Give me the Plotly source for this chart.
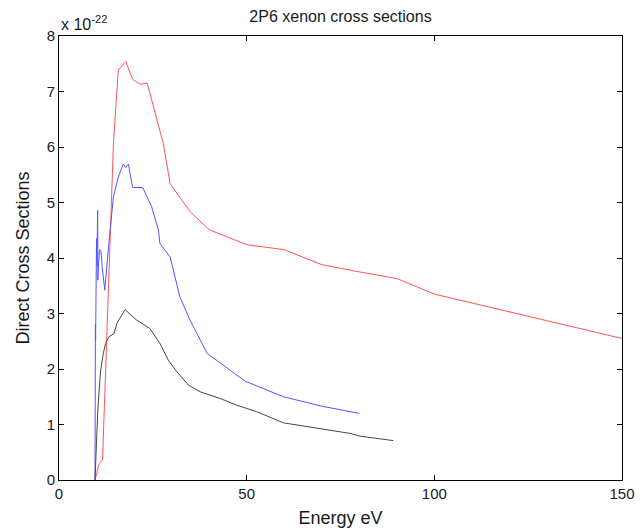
import plotly.graph_objects as go

# Energies (eV) and cross sections (units of 1e-22)
red_x = [9.6, 10.7, 11.6, 14.5, 15.8, 17.8, 19.6, 21.6, 23.5, 27.8, 29.6, 35, 40, 50, 60, 70, 80, 90, 100, 150]
red_y = [0.0, 0.30, 0.36, 6.06, 7.39, 7.54, 7.22, 7.13, 7.15, 6.06, 5.34, 4.83, 4.51, 4.24, 4.15, 3.88, 3.75, 3.63, 3.35, 2.55]

blue_x = [9.6, 9.6, 9.65, 9.7, 9.75, 10.0, 10.1, 10.3, 10.35, 10.5, 10.8, 11.2, 11.5, 12.2, 13.2, 14.5,
          15.8, 17.1, 17.8, 18.5, 19.6, 22.3, 24.7, 26.5, 26.9, 29.6, 32.2, 34.9, 39.5, 49.6, 59.8, 70, 80]
blue_y = [0.0, 2.79, 2.5, 2.8, 2.5, 4.35, 3.85, 4.86, 3.6, 3.85, 4.15, 4.12, 3.84, 3.42, 4.2, 5.1,
          5.46, 5.69, 5.63, 5.69, 5.27, 5.27, 4.92, 4.5, 4.26, 4.02, 3.3, 2.88, 2.28, 1.78, 1.5, 1.33, 1.2]

black_x = [9.6, 10.0, 10.3, 10.7, 11.1, 11.8, 12.4, 13.3, 14.7, 15.4, 17.6, 20.7, 24.2, 26.9, 29.1, 31.4,
           34.5, 37.6, 42.9, 47.3, 52.7, 59.8, 68.7, 77.5, 80.2, 89.1]
black_y = [0.0, 0.78, 1.2, 1.62, 1.98, 2.28, 2.46, 2.58, 2.64, 2.82, 3.07, 2.88, 2.73, 2.46, 2.16, 1.95,
           1.71, 1.59, 1.47, 1.35, 1.23, 1.03, 0.93, 0.84, 0.79, 0.71]

x_ticks = [0, 50, 100, 150]
y_ticks = [0, 1, 2, 3, 4, 5, 6, 7, 8]

fig = go.Figure()
fig.add_trace(go.Scatter(x=red_x, y=red_y, mode="lines", line=dict(color="rgb(255,85,85)", width=1)))
fig.add_trace(go.Scatter(x=blue_x, y=blue_y, mode="lines", line=dict(color="rgb(85,85,255)", width=1)))
fig.add_trace(go.Scatter(x=black_x, y=black_y, mode="lines", line=dict(color="rgb(70,70,70)", width=1)))

font = dict(family="Liberation Sans, Arial, sans-serif", size=15, color="#1a1a1a")

fig.update_layout(
    width=643, height=530,
    margin=dict(l=59, r=21, t=36, b=50),
    paper_bgcolor="white", plot_bgcolor="white",
    showlegend=False,
    font=font,
    title=dict(text="2P6 xenon cross sections", x=(59 + 622) / 2 / 643, xanchor="center",
               y=1 - 16 / 530, yanchor="middle", font=dict(size=16)),
    xaxis=dict(range=[0, 150], tickvals=x_ticks, ticks="inside", ticklen=5, tickcolor="black",
               showline=True, linecolor="black", linewidth=1, mirror="ticks", showgrid=False,
               zeroline=False, automargin=False, title=dict(text="Energy eV", standoff=10)),
    yaxis=dict(range=[0, 8], tickvals=y_ticks, ticks="inside", ticklen=5, tickcolor="black",
               showline=True, linecolor="black", linewidth=1, mirror="ticks", showgrid=False,
               zeroline=False, automargin=False, title=dict(text="Direct Cross Sections", standoff=12)),
    annotations=[dict(text="x 10<sup>-22</sup>", xref="paper", yref="paper", x=0, y=1,
                      xanchor="left", yanchor="bottom", showarrow=False, yshift=1,
                      font=dict(size=16))],
)

fig.write_html("out.html")
